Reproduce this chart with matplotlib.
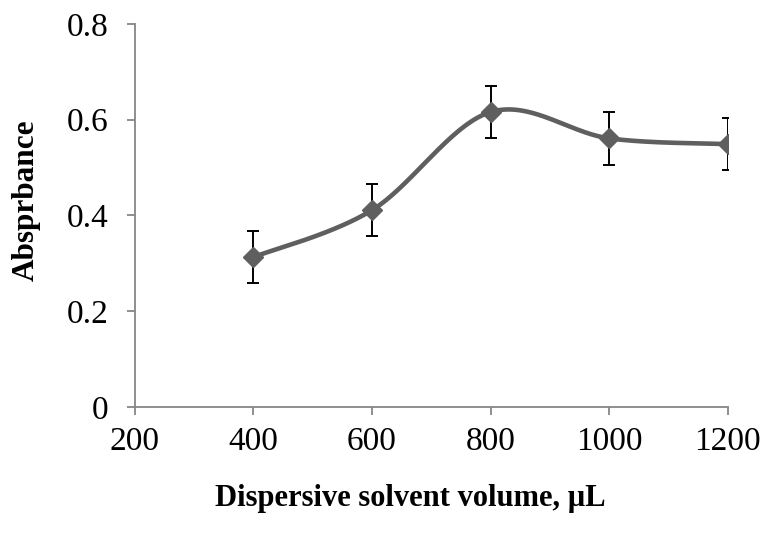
import numpy as np
import matplotlib.pyplot as plt

# dispersive solvent volume (uL) and measured absorbance
volume = [400, 600, 800, 1000, 1200]
absorbance = [0.313, 0.411, 0.616, 0.561, 0.549]
err = [0.055, 0.055, 0.055, 0.055, 0.055]

plt.rcParams['font.family'] = ['Liberation Serif', 'DejaVu Serif']


def smooth_curve(x, y, n=60):
    # Catmull-Rom style bezier through the points (like a spreadsheet smoothed line)
    x = np.asarray(x, float)
    y = np.asarray(y, float)
    px = np.concatenate([[x[0]], x, [x[-1]]])
    py = np.concatenate([[y[0]], y, [y[-1]]])
    xs, ys = [], []
    t = np.linspace(0, 1, n)
    for i in range(1, len(px) - 2):
        p0 = np.array([px[i], py[i]])
        p3 = np.array([px[i + 1], py[i + 1]])
        p1 = p0 + (np.array([px[i + 1], py[i + 1]]) - np.array([px[i - 1], py[i - 1]])) / 6
        p2 = p3 - (np.array([px[i + 2], py[i + 2]]) - np.array([px[i], py[i]])) / 6
        b = ((1 - t) ** 3)[:, None] * p0 + (3 * (1 - t) ** 2 * t)[:, None] * p1 \
            + (3 * (1 - t) * t ** 2)[:, None] * p2 + (t ** 3)[:, None] * p3
        xs.extend(b[:, 0])
        ys.extend(b[:, 1])
    return xs, ys


fig = plt.figure(figsize=(7.62, 5.44), dpi=100)
ax = fig.add_axes([0.177, 0.252, 0.778, 0.704])

sx, sy = smooth_curve(volume, absorbance)
ax.plot(sx, sy, color='#5f5f5f', linewidth=3.3, solid_capstyle='round', zorder=2)
ax.errorbar(volume, absorbance, yerr=err, fmt='none', ecolor='black',
            elinewidth=1.4, capsize=4, capthick=1.4, zorder=3)
ax.plot(volume, absorbance, linestyle='none', marker='D', markersize=10.5,
        color='#5f5f5f', zorder=4)

ax.set_xlim(200, 1200)
ax.set_ylim(0, 0.8)
ax.set_xticks([200, 400, 600, 800, 1000, 1200])
ax.set_yticks([0, 0.2, 0.4, 0.6, 0.8])
ax.set_yticklabels(['0', '0.2', '0.4', '0.6', '0.8'])

for side in ['top', 'right']:
    ax.spines[side].set_visible(False)
for side in ['left', 'bottom']:
    ax.spines[side].set_color('#868686')
    ax.spines[side].set_linewidth(1.3)

ax.tick_params(axis='both', direction='out', length=6, width=1.3, color='#868686',
               labelsize=24)
ax.tick_params(axis='y', pad=13)
ax.tick_params(axis='x', pad=8)

ax.set_xlabel('Dispersive solvent volume, µL', fontsize=22, fontweight='bold', va='center')
ax.xaxis.set_label_coords(0.464, -0.24)
ax.set_ylabel('Absprbance', fontsize=22.5, fontweight='bold', va='center')
ax.yaxis.set_label_coords(-0.184, 0.54)

fig.savefig('out.png', dpi=100)
